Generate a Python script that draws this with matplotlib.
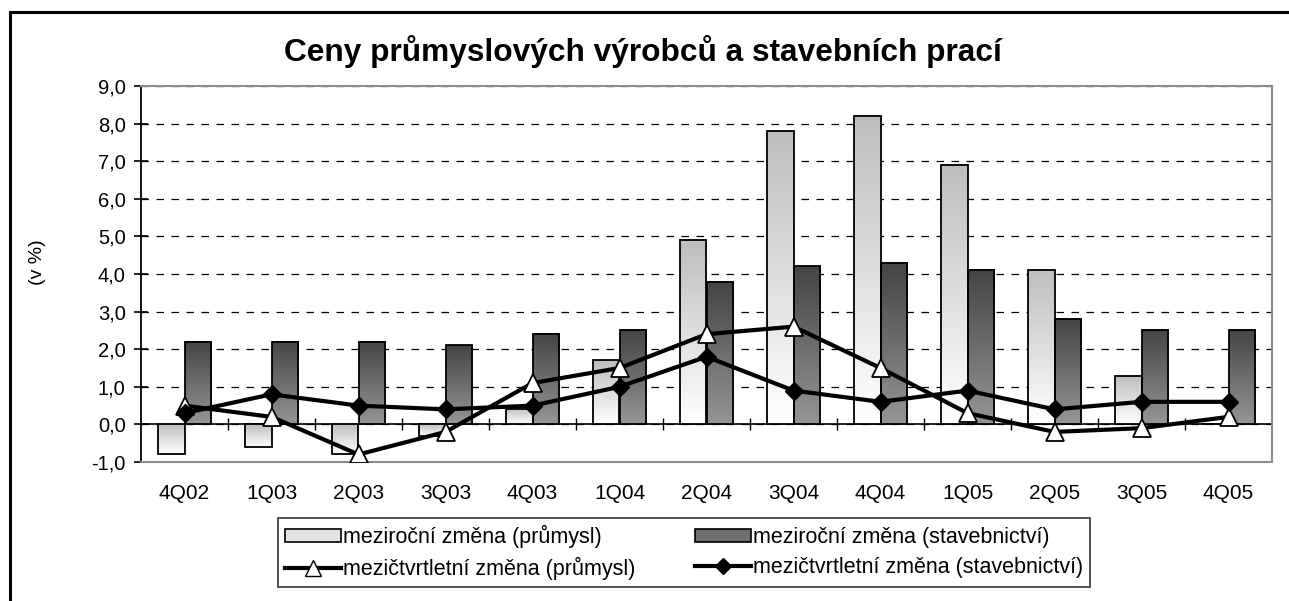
import numpy as np
import matplotlib
matplotlib.use("Agg")
import matplotlib.pyplot as plt
from matplotlib.colors import LinearSegmentedColormap
from matplotlib.patches import Rectangle, Patch
from matplotlib.lines import Line2D
from matplotlib.ticker import FuncFormatter

plt.rcParams['font.family'] = ['Liberation Sans', 'DejaVu Sans']

categories = ["4Q02", "1Q03", "2Q03", "3Q03", "4Q03", "1Q04", "2Q04",
              "3Q04", "4Q04", "1Q05", "2Q05", "3Q05", "4Q05"]
yoy_industry = [-0.8, -0.6, -0.8, -0.3, 0.4, 1.7, 4.9, 7.8, 8.2, 6.9, 4.1, 1.3, 0.0]
yoy_construction = [2.2, 2.2, 2.2, 2.1, 2.4, 2.5, 3.8, 4.2, 4.3, 4.1, 2.8, 2.5, 2.5]
qoq_industry = [0.5, 0.2, -0.8, -0.2, 1.1, 1.5, 2.4, 2.6, 1.5, 0.3, -0.2, -0.1, 0.2]
qoq_construction = [0.3, 0.8, 0.5, 0.4, 0.5, 1.0, 1.8, 0.9, 0.6, 0.9, 0.4, 0.6, 0.6]
labels = ["meziroční změna (průmysl)", "meziroční změna (stavebnictví)",
          "mezičtvrtletní změna (průmysl)", "mezičtvrtletní změna (stavebnictví)"]
title = "Ceny průmyslových výrobců a stavebních prací"
ylabel = "(v %)"

W, H = 1289, 601
fig = plt.figure(figsize=(W / 100, H / 100), dpi=100)
ax = fig.add_axes([141 / W, 1 - 462 / H, (1272 - 141) / W, (462 - 86) / H])

x = np.arange(len(categories))
bw = 0.3
cmap_light = LinearSegmentedColormap.from_list("l", ["#bdbdbd", "#ffffff"])
cmap_dark = LinearSegmentedColormap.from_list("d", ["#444444", "#969696"])
grad = np.linspace(0, 1, 256).reshape(-1, 1)

b1 = ax.bar(x - bw / 2, yoy_industry, bw, facecolor="none", edgecolor="black", linewidth=1.3, zorder=3)
b2 = ax.bar(x + bw / 2, yoy_construction, bw, facecolor="none", edgecolor="black", linewidth=1.3, zorder=3)
for bars, cm in ((b1, cmap_light), (b2, cmap_dark)):
    for r in bars:
        h = r.get_height()
        if h == 0:
            continue
        y0, y1 = min(r.get_y(), r.get_y() + h), max(r.get_y(), r.get_y() + h)
        ax.imshow(grad, cmap=cm, extent=(r.get_x(), r.get_x() + r.get_width(), y0, y1),
                  aspect="auto", origin="upper", zorder=2, interpolation="bilinear")

ax.plot(x, qoq_industry, color="black", lw=3.0, marker="^", markersize=13,
        markerfacecolor="white", markeredgecolor="black", markeredgewidth=1.3, zorder=5)
ax.plot(x, qoq_construction, color="black", lw=3.0, marker="D", markersize=9,
        markerfacecolor="black", markeredgecolor="black", zorder=6)

ymin, ymax = -1.0, 9.0
ax.set_xlim(-0.5, len(categories) - 0.5)
ax.set_ylim(ymin, ymax)
ax.set_yticks(np.arange(-1, 10, 1))
ax.yaxis.set_major_formatter(FuncFormatter(lambda v, p: f"{v:.1f}".replace(".", ",")))
ax.tick_params(axis="y", direction="inout", length=10, width=1.2, labelsize=14.5, pad=6)
ax.set_xticks(x)
ax.set_xticklabels(categories)
ax.tick_params(axis="x", length=0, labelsize=15, pad=16)

ax.grid(axis="y", color="black", linestyle=(0, (6, 6)), linewidth=0.9, zorder=1)
ax.set_axisbelow(True)
for s in ("top", "right", "bottom"):
    ax.spines[s].set_color("#8c8c8c")
    ax.spines[s].set_linewidth(1.5)
ax.spines["left"].set_color("black")
ax.spines["left"].set_linewidth(1.3)

# zero line with category-boundary ticks
sec = ax.secondary_xaxis((0 - ymin) / (ymax - ymin))
sec.set_xticks(np.arange(0.5, len(categories) - 0.5, 1.0))
sec.set_xticklabels([])
sec.tick_params(direction="inout", length=9, width=1.0, color="black")
sec.spines["bottom"].set_color("black")
sec.spines["bottom"].set_linewidth(1.2)
sec.spines["bottom"].set_zorder(4)

fig.text(643 / W, 1 - 61 / H, title, ha="center", va="baseline", fontsize=22.8, fontweight="bold")
fig.text(38 / W, 1 - 262 / H, ylabel, ha="center", va="center", rotation=90, fontsize=14)

handles = [
    Patch(facecolor="#e4e4e4", edgecolor="black", linewidth=1.2),
    Line2D([], [], color="black", lw=3.0, marker="^", markersize=11,
           markerfacecolor="white", markeredgecolor="black"),
    Patch(facecolor="#6e6e6e", edgecolor="black", linewidth=1.2),
    Line2D([], [], color="black", lw=3.0, marker="D", markersize=8,
           markerfacecolor="black"),
]
hl = [labels[0], labels[2], labels[1], labels[3]]
leg = fig.legend(handles, hl, ncol=2, loc="upper left",
                 bbox_to_anchor=(278 / W, 1 - 518 / H),
                 fontsize=15.5, frameon=True, fancybox=False,
                 edgecolor="black", handlelength=2.6, handleheight=0.6,
                 handletextpad=0.1, labelspacing=0.42, borderpad=0.32,
                 borderaxespad=0.0, columnspacing=2.75)
leg.get_frame().set_linewidth(1.2)

fig.patches.append(Rectangle((10 / W, -0.1), 1.2, 1 - 12 / H + 0.1, transform=fig.transFigure,
                             fill=False, edgecolor="black", linewidth=2.2))

fig.savefig("out.png", dpi=100)
